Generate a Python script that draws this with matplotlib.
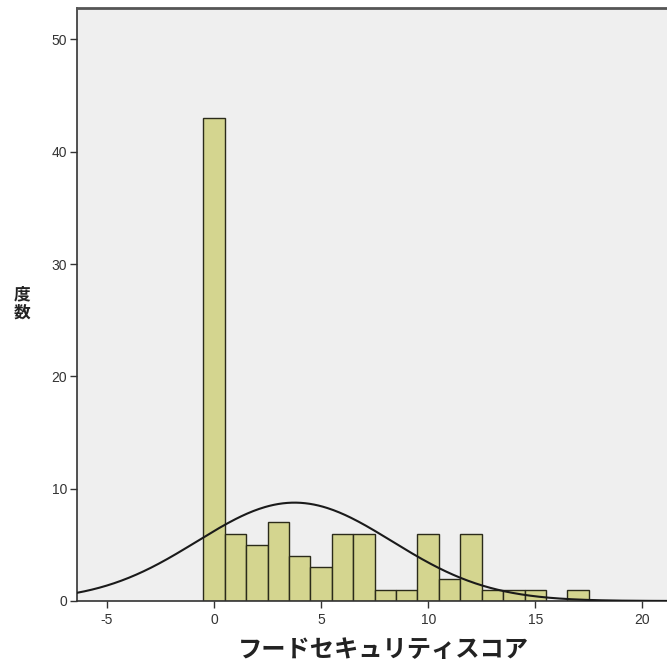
import numpy as np
import matplotlib.pyplot as plt

plt.rcParams['font.family'] = ['Noto Sans CJK JP', 'DejaVu Sans']
plt.rcParams['axes.unicode_minus'] = False

# score values (bin centres) and counts
scores = np.arange(0, 18)
counts = [43, 6, 5, 7, 4, 3, 6, 6, 1, 1, 6, 2, 6, 1, 1, 1, 0, 1]
xticks = [-5, 0, 5, 10, 15, 20]
yticks = [0, 10, 20, 30, 40, 50]

data = np.repeat(scores, counts)
mu = data.mean()
sd = data.std(ddof=1)
n = len(data)

fig = plt.figure(figsize=(6.67, 6.70), dpi=100)
ax = fig.add_axes([0.1154, 0.103, 0.8846, 0.885])
ax.set_facecolor('#efefef')

ax.bar(scores, counts, width=1.0, color='#d4d58f', edgecolor='#2b2b1a', linewidth=1.0, zorder=2)

xs = np.linspace(-6.4, 21.2, 400)
ys = n * 1.0 / (sd * np.sqrt(2 * np.pi)) * np.exp(-0.5 * ((xs - mu) / sd) ** 2)
ax.plot(xs, ys, color='#1a1a1a', linewidth=1.5, zorder=3)

ax.set_xlim(-6.4, 21.15)
ax.set_ylim(0, 52.8)
ax.set_xticks(xticks)
ax.set_yticks(yticks)
for lab in ax.get_xticklabels() + ax.get_yticklabels():
    lab.set_family(['Liberation Sans', 'DejaVu Sans'])
ax.tick_params(axis='both', direction='out', length=5, width=1, colors='#333333', labelsize=10, pad=2)
ax.tick_params(axis='x', pad=4)

for s in ['left', 'bottom', 'top']:
    ax.spines[s].set_color('#333333')
    ax.spines[s].set_linewidth(1.2)
ax.spines['top'].set_color('#555555')
ax.spines['top'].set_linewidth(2)
ax.spines['right'].set_visible(False)

ax.set_xlabel('フードセキュリティスコア', fontsize=17.5, fontweight='bold', color='#222222', labelpad=9)
ax.xaxis.set_label_coords(0.519, -0.062)
fig.text(0.033, 0.547, '度\n数', fontsize=12, fontweight='bold', color='#222222',
         ha='center', va='center', linespacing=1.0)

fig.savefig('out.png', dpi=100)
